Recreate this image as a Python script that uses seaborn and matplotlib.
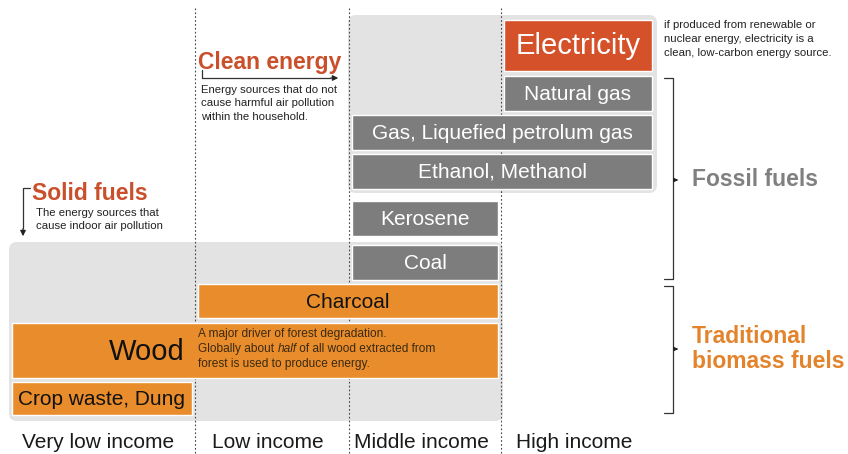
import matplotlib
matplotlib.use("Agg")
import matplotlib.pyplot as plt
import seaborn as sns
from matplotlib.patches import FancyBboxPatch

# data: which income levels use which fuel
income_levels = ["Very low income", "Low income", "Middle income", "High income"]
fuels = ["Electricity", "Natural gas", "Gas, Liquefied petrolum gas", "Ethanol, Methanol",
         "Kerosene", "Coal", "Charcoal", "Wood", "Crop waste, Dung"]
first_level = [3, 3, 2, 2, 2, 2, 1, 0, 0]
last_level = [3, 3, 3, 3, 2, 2, 2, 2, 0]
fuel_group = ["electricity", "fossil", "fossil", "fossil", "fossil", "fossil",
              "biomass", "biomass", "biomass"]

sns.set_theme(style="white")
plt.rcParams["font.family"] = ["Liberation Sans", "DejaVu Sans"]

# layout (pixel space)
col_edges = [9, 195, 349, 501, 655]
row_center = [45.5, 93.5, 132.5, 171.5, 218.5, 262.5, 301, 350.5, 398.5]
row_height = [51, 35, 35, 35, 35, 35, 34, 55, 33]
group_color = {"electricity": "#d5512a", "fossil": "#7d7d7d", "biomass": "#e98c2b"}
text_color = {"electricity": "white", "fossil": "white", "biomass": "#111111"}
RED = "#c9502b"
ORANGE = "#e3842d"

fig = plt.figure(figsize=(8.48, 4.54), dpi=100)
ax = fig.add_axes([0, 0, 1, 1])
ax.set_xlim(0, 848)
ax.set_ylim(454, 0)
ax.axis("off")

# light grey backgrounds
bg_kw = dict(boxstyle="round,pad=0,rounding_size=8", fc="#e3e3e3", ec="none", zorder=1)
ax.add_patch(FancyBboxPatch((348, 15), 309, 178, **bg_kw))
ax.add_patch(FancyBboxPatch((9, 242), 494, 179, **bg_kw))

# dotted column separators
for xe in col_edges[1:4]:
    ax.plot([xe, xe], [8, 454], color="#444444", lw=0.8, ls=(0, (1.5, 2)), zorder=2)

# fuel bars
pad = 3
lefts = [col_edges[a] + pad for a in first_level]
widths = [col_edges[b + 1] - col_edges[a] - 2 * pad for a, b in zip(first_level, last_level)]
colors = [group_color[g] for g in fuel_group]
ax.barh(row_center, widths, left=lefts, height=row_height, color=colors, zorder=3)

for name, l, w, y, g in zip(fuels, lefts, widths, row_center, fuel_group):
    if name == "Wood":
        ax.text(185, y + 1, name, ha="right", va="center", fontsize=21, color=text_color[g], zorder=4)
    elif name == "Electricity":
        ax.text(l + w / 2, y + 1, name, ha="center", va="center", fontsize=21, color=text_color[g], zorder=4)
    else:
        ax.text(l + w / 2, y + 1, name, ha="center", va="center", fontsize=15, color=text_color[g], zorder=4)

# wood note, with "half" in italics
note_kw = dict(fontsize=8.6, color="#3a2a12", zorder=4, va="center")
ax.text(198, 334, "A major driver of forest degradation.", ha="left", **note_kw)
t1 = ax.text(198, 349, "Globally about ", ha="left", **note_kw)
t2 = ax.annotate("half", xy=(1, 0), xycoords=t1, ha="left", va="bottom",
                 fontsize=8.6, color="#3a2a12", style="italic", zorder=4)
ax.annotate(" of all wood extracted from", xy=(1, 0), xycoords=t2, ha="left", va="bottom",
            fontsize=8.6, color="#3a2a12", zorder=4)
ax.text(198, 364, "forest is used to produce energy.", ha="left", **note_kw)

# income labels
for i, lab in enumerate(income_levels):
    ax.text((col_edges[i] + col_edges[i + 1]) / 2 - 4, 443, lab, ha="center", va="center",
            fontsize=15, color="#1a1a1a")

# clean energy annotation
ax.text(198, 63, "Clean energy", ha="left", va="center", fontsize=16.5, fontweight="bold", color=RED)
ax.plot([202, 202, 330], [70, 78, 78], color="#333333", lw=0.9)
ax.annotate("", xy=(341, 78), xytext=(328, 78),
            arrowprops=dict(arrowstyle="-|>", color="#222222", lw=0.9, mutation_scale=8))
ax.text(201, 85, "Energy sources that do not\ncause harmful air pollution\nwithin the household.",
        ha="left", va="top", fontsize=8.2, color="#222222", linespacing=1.42)

# solid fuels annotation
ax.text(32, 194, "Solid fuels", ha="left", va="center", fontsize=16.5, fontweight="bold", color=RED)
ax.plot([30, 23, 23], [188, 188, 228], color="#333333", lw=0.9)
ax.annotate("", xy=(23, 239), xytext=(23, 226),
            arrowprops=dict(arrowstyle="-|>", color="#222222", lw=0.9, mutation_scale=8))
ax.text(36, 208, "The energy sources that\ncause indoor air pollution",
        ha="left", va="top", fontsize=8.2, color="#222222", linespacing=1.42)

# electricity note
ax.text(664, 20, "if produced from renewable or\nnuclear energy, electricity is a\nclean, low-carbon energy source.",
        ha="left", va="top", fontsize=8.2, color="#222222", linespacing=1.5)

# brackets
for top, bot, mid in [(78, 279, 180), (286, 413, 349)]:
    ax.plot([664, 673, 673, 664], [top, top, bot, bot], color="#333333", lw=0.9)
    ax.annotate("", xy=(681, mid), xytext=(673, mid),
                arrowprops=dict(arrowstyle="-|>", color="#222222", lw=0.8, mutation_scale=6))
ax.text(692, 180, "Fossil fuels", ha="left", va="center", fontsize=16.5, fontweight="bold", color="#808080")
ax.text(692, 349, "Traditional\nbiomass fuels", ha="left", va="center", fontsize=16.5,
        fontweight="bold", color=ORANGE, linespacing=1.15)

fig.savefig("out.png", dpi=100)
